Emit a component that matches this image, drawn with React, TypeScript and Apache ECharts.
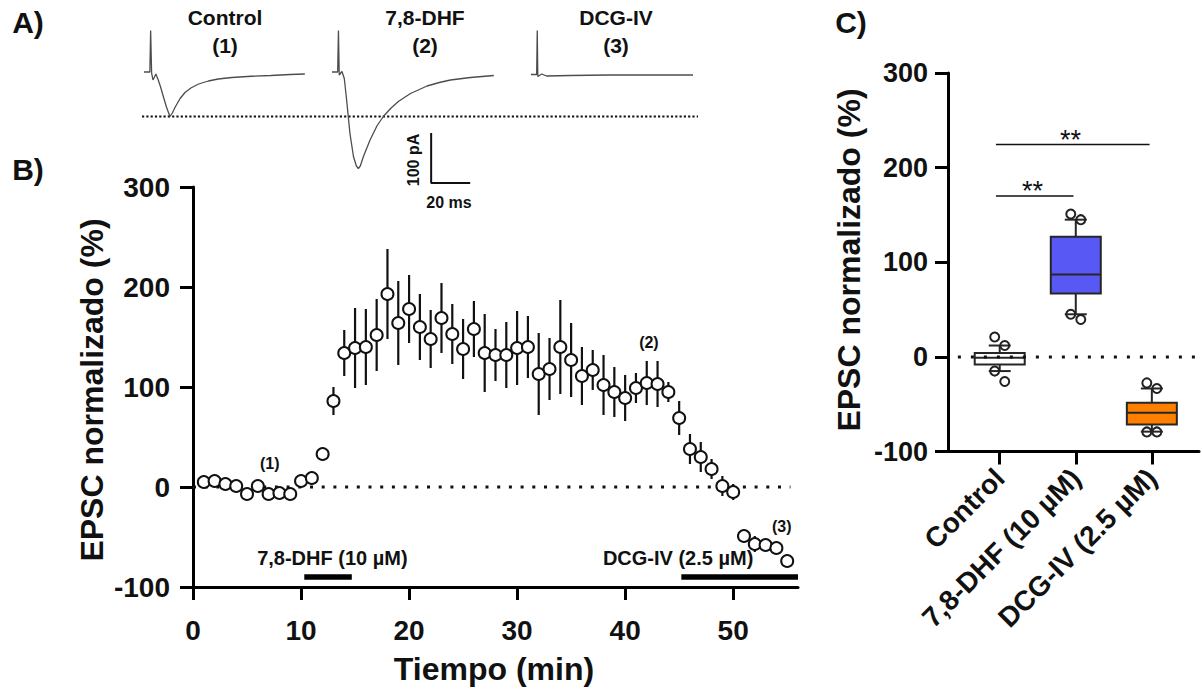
import React, { useEffect, useRef } from "react";
import * as echarts from "echarts";

const FONT = '"Liberation Sans", Arial, Helvetica, sans-serif';
const INK = "#111111";

// ---------- Panel A: representative EPSC traces [time (ms), current (pA)] ----------
const traceControl = [
  [0, 0], [3.0, 0], [3.4, 83], [3.9, -2], [4.6, -16], [6.1, -4], [7.3, -16], [8.5, -30],
  [9.9, -49], [11.5, -70], [13.3, -89], [14.5, -82], [16, -70], [18.5, -53], [21, -41],
  [24, -32], [28, -24], [33, -18], [38, -14], [45, -11], [55, -8.5], [65, -7], [75, -5], [82.4, -4],
];
const traceDHF = [
  [0, 0], [2.9, 0], [3.3, 83], [3.7, -6], [5.1, 1], [6.3, -13], [7.5, -56], [9.2, -123],
  [11, -169], [12.5, -188], [13.5, -193], [14.5, -188], [16.1, -169], [19.5, -136], [23, -108],
  [26.3, -89], [30, -73], [34, -59], [40.2, -43], [48.7, -28], [55, -21], [60.7, -16],
  [70.9, -11], [82.9, -7],
];
const traceDCG = [
  [0, -5], [2.9, -5], [3.2, 83], [3.5, -9], [5.5, -4], [8, -8], [20, -7], [40, -6], [60, -6], [83, -6],
];
const traceTitles = ["Control", "7,8-DHF", "DCG-IV"];
const traceTags = ["(1)", "(2)", "(3)"];
const controlPeak = -89; // pA, dotted reference level
const scaleBarPA = 100;
const scaleBarMS = 20;

// ---------- Panel B: time course ----------
const minutes = [
  1, 2, 3, 4, 5, 6, 7, 8, 9, 10, 11, 12, 13, 14, 15, 16, 17, 18, 19, 20, 21, 22, 23, 24, 25, 26, 27, 28,
  29, 30, 31, 32, 33, 34, 35, 36, 37, 38, 39, 40, 41, 42, 43, 44, 45, 46, 47, 48, 49, 50, 51, 52, 53, 54, 55,
];
const epscMean = [
  5, 6, 3, 1, -7, 1, -7, -6, -7, 6, 9, 33, 86, 134, 139, 140, 152, 193, 164, 178, 160, 148, 169, 153,
  138, 158, 134, 132, 132, 139, 140, 113, 118, 140, 127, 111, 117, 102, 95, 89, 99, 104, 103, 95, 69,
  38, 30, 18, 1, -5, -49, -57, -58, -61, -74,
];
const epscSem = [
  4, 4, 4, 4, 4, 5, 4, 4, 6, 4, 6, 4, 14, 23, 40, 38, 36, 45, 42, 34, 33, 29, 35, 30, 30, 28, 39, 26,
  33, 37, 31, 41, 31, 47, 37, 29, 20, 30, 25, 23, 15, 22, 23, 10, 17, 15, 15, 10, 10, 8, 6, 8, 5, 5, 4,
];
const timeTicks = [0, 10, 20, 30, 40, 50];
const drugNames = ["7,8-DHF (10 µM)", "DCG-IV (2.5 µM)"];
const drugStart = [10.3, 45.2];
const drugEnd = [14.7, 56];
const drugLabelTime = [12.9, 44.9];
const sampleTags = ["(1)", "(2)", "(3)"];
const sampleTagTime = [7.1, 42.2, 54.5];
const sampleTagLevel = [24, 145, -39];

// ---------- Panel C: summary box plots ----------
const groups = ["Control", "7,8-DHF (10 µM)", "DCG-IV (2.5 µM)"];
const boxMin = [-15, 45, -79];
const boxQ1 = [-8, 67, -71.5];
const boxMedian = [-1, 87, -59];
const boxQ3 = [4, 127, -48.5];
const boxMax = [12, 145, -33.4];
const boxColors = ["#ffffff", "#5858f5", "#ff8000"];
const groupPoints = [
  [21, 12, -15, -26],
  [151, 145, 45, 39.5],
  [-27.5, -33.4, -79.3, -79.3],
];
const sigFrom = [1, 1];
const sigTo = [2, 3];
const sigLevel = [170, 224.5];
const sigLabel = ["**", "**"];

const boldText = (size: number) => ({
  fontFamily: FONT,
  fontWeight: "bold" as const,
  fontSize: size,
  color: INK,
});

function gText(text: string, x: number, y: number, size: number, rotation = 0, weight = "bold") {
  return {
    type: "text",
    x,
    y,
    rotation,
    silent: true,
    style: {
      text,
      fill: INK,
      fontFamily: FONT,
      fontWeight: weight,
      fontSize: size,
      align: "center",
      verticalAlign: "middle",
    },
  };
}

export default function App() {
  const ref = useRef<HTMLDivElement>(null);

  useEffect(() => {
    document.body.style.margin = "0";
    if (!ref.current) return;
    const chart = echarts.init(ref.current, undefined, { renderer: "svg" });

    const traceLefts = [144, 332, 531];
    const traces = [traceControl, traceDHF, traceDCG];

    // grids 0-2: traces, 3: time course, 4: box plots, 5: dotted reference across traces
    const grids: any[] = traceLefts.map((left) => ({
      left,
      top: 27,
      width: 162,
      height: 160,
      outerBoundsMode: "none",
    }));
    grids.push({ left: 193, top: 187, width: 605, height: 400, outerBoundsMode: "none" });
    grids.push({ left: 948, top: 73, width: 251, height: 378.5, outerBoundsMode: "none" });
    grids.push({ left: 142, top: 27, width: 556, height: 160, outerBoundsMode: "none" });

    const xAxes: any[] = traceLefts.map((_, i) => ({
      gridIndex: i, type: "value", min: 0, max: 83, show: false,
    }));
    const yAxes: any[] = traceLefts.map((_, i) => ({
      gridIndex: i, type: "value", min: -230, max: 90, show: false,
    }));

    const axisLine = { show: true, onZero: false, lineStyle: { color: "#000", width: 3 } };
    const axisTick = { show: true, length: 13, lineStyle: { color: "#000", width: 3 } };

    xAxes.push({
      gridIndex: 3,
      type: "value",
      min: 0,
      max: 56,
      axisLine,
      axisTick: { ...axisTick, customValues: timeTicks },
      axisLabel: { ...boldText(28), margin: 29, customValues: timeTicks },
      splitLine: { show: false },
    });
    yAxes.push({
      gridIndex: 3,
      type: "value",
      min: -100,
      max: 300,
      interval: 100,
      axisLine,
      axisTick,
      axisLabel: { ...boldText(28), margin: 23 },
      splitLine: { show: false },
    });
    xAxes.push({
      gridIndex: 4,
      type: "value",
      min: 0.32,
      max: 3.62,
      axisLine,
      axisTick: { ...axisTick, customValues: [1, 2, 3] },
      axisLabel: {
        ...boldText(28),
        margin: 22,
        rotate: 45,
        customValues: [1, 2, 3],
        formatter: (v: number) => groups[Math.round(v) - 1] ?? "",
      },
      splitLine: { show: false },
    });
    yAxes.push({
      gridIndex: 4,
      type: "value",
      min: -100,
      max: 300,
      interval: 100,
      axisLine,
      axisTick,
      axisLabel: { ...boldText(27), margin: 20 },
      splitLine: { show: false },
    });
    xAxes.push({ gridIndex: 5, type: "value", min: 0, max: 1, show: false });
    yAxes.push({ gridIndex: 5, type: "value", min: -230, max: 90, show: false });

    const series: any[] = [];

    // Panel A traces
    traces.forEach((t, i) => {
      series.push({
        type: "line",
        xAxisIndex: i,
        yAxisIndex: i,
        data: t,
        showSymbol: false,
        symbol: "none",
        lineStyle: { color: "#4d4d4d", width: 1.3 },
        z: 3,
      });
    });
    // Dotted line at the control peak, spanning all three traces
    series.push({
      type: "line",
      xAxisIndex: 5,
      yAxisIndex: 5,
      data: [[0, controlPeak], [1, controlPeak]],
      symbol: "none",
      lineStyle: { color: INK, width: 2.2, type: [2.2, 2.1] },
      z: 2,
    });
    // Scale bar (100 pA, 20 ms)
    const sbX = 50.8;
    const sbY = -222;
    series.push({
      type: "line",
      xAxisIndex: 1,
      yAxisIndex: 1,
      clip: false,
      data: [[sbX, sbY + scaleBarPA], [sbX, sbY], [sbX + scaleBarMS, sbY]],
      symbol: "none",
      lineStyle: { color: INK, width: 2 },
    });

    // Panel B: zero reference
    series.push({
      type: "line",
      xAxisIndex: 3,
      yAxisIndex: 3,
      data: [[0, 0], [55.3, 0]],
      symbol: "none",
      lineStyle: { color: INK, width: 3, type: [3, 8.7] },
      z: 1,
    });
    // Drug application bars
    drugNames.forEach((_, i) => {
      series.push({
        type: "line",
        xAxisIndex: 3,
        yAxisIndex: 3,
        data: [[drugStart[i], -90], [drugEnd[i], -90]],
        symbol: "none",
        lineStyle: { color: "#000", width: 5.5 },
        z: 2,
      });
    });
    // Error bars (SEM)
    series.push({
      type: "custom",
      xAxisIndex: 3,
      yAxisIndex: 3,
      data: minutes.map((m, i) => [m, epscMean[i], epscSem[i]]),
      encode: { x: 0, y: 1 },
      renderItem: (_p: any, api: any) => {
        const x = api.value(0);
        const m = api.value(1);
        const e = api.value(2);
        const a = api.coord([x, m + e]);
        const b = api.coord([x, m - e]);
        return {
          type: "line",
          shape: { x1: a[0], y1: a[1], x2: b[0], y2: b[1] },
          style: { stroke: INK, lineWidth: 2.2 },
        };
      },
      z: 3,
    });
    // Means
    series.push({
      type: "scatter",
      xAxisIndex: 3,
      yAxisIndex: 3,
      data: minutes.map((m, i) => [m, epscMean[i]]),
      symbol: "circle",
      symbolSize: 12,
      itemStyle: { color: "#ffffff", borderColor: INK, borderWidth: 2, opacity: 1 },
      z: 4,
    });
    // Text annotations in panel B
    series.push({
      type: "scatter",
      xAxisIndex: 3,
      yAxisIndex: 3,
      symbolSize: 0,
      silent: true,
      itemStyle: { opacity: 1 },
      data: [
        ...sampleTags.map((t, i) => ({
          name: t,
          value: [sampleTagTime[i], sampleTagLevel[i]],
          label: { fontSize: 16 },
        })),
        ...drugNames.map((t, i) => ({
          name: t,
          value: [drugLabelTime[i], -71],
          label: { fontSize: 20 },
        })),
      ],
      label: {
        show: true,
        position: "inside",
        formatter: "{b}",
        ...boldText(16),
        opacity: 1,
      },
      z: 5,
    });

    // Panel C: boxes
    series.push({
      type: "custom",
      xAxisIndex: 4,
      yAxisIndex: 4,
      data: groups.map((_, i) => [i + 1, boxMin[i], boxQ1[i], boxMedian[i], boxQ3[i], boxMax[i]]),
      encode: { x: 0, y: [1, 2, 3, 4, 5] },
      renderItem: (params: any, api: any) => {
        const x = api.value(0);
        const lo = api.coord([x, api.value(1)]);
        const q1 = api.coord([x, api.value(2)]);
        const md = api.coord([x, api.value(3)]);
        const q3 = api.coord([x, api.value(4)]);
        const hi = api.coord([x, api.value(5)]);
        const cx = md[0];
        const hw = 25;
        const cw = 11;
        const st = { stroke: "#262626", lineWidth: 2 };
        return {
          type: "group",
          children: [
            { type: "line", shape: { x1: cx, y1: q3[1], x2: cx, y2: hi[1] }, style: st },
            { type: "line", shape: { x1: cx - cw, y1: hi[1], x2: cx + cw, y2: hi[1] }, style: st },
            { type: "line", shape: { x1: cx, y1: q1[1], x2: cx, y2: lo[1] }, style: st },
            { type: "line", shape: { x1: cx - cw, y1: lo[1], x2: cx + cw, y2: lo[1] }, style: st },
            {
              type: "rect",
              shape: { x: cx - hw, y: q3[1], width: 2 * hw, height: q1[1] - q3[1] },
              style: { fill: boxColors[params.dataIndex], stroke: "#262626", lineWidth: 2 },
            },
            { type: "line", shape: { x1: cx - hw, y1: md[1], x2: cx + hw, y2: md[1] }, style: st },
          ],
        };
      },
      z: 2,
    });
    // Zero reference in panel C
    series.push({
      type: "line",
      xAxisIndex: 4,
      yAxisIndex: 4,
      data: [[0.45, 0], [3.62, 0]],
      symbol: "none",
      lineStyle: { color: INK, width: 3, type: [3, 10] },
      z: 3,
    });
    // Individual experiments
    const jitter = [-0.066, 0.066];
    series.push({
      type: "scatter",
      xAxisIndex: 4,
      yAxisIndex: 4,
      data: groupPoints.flatMap((pts, g) => pts.map((v, k) => [g + 1 + jitter[k % 2], v])),
      symbol: "circle",
      symbolSize: 9,
      itemStyle: { color: "rgba(255,255,255,0)", borderColor: "#222", borderWidth: 2, opacity: 1 },
      z: 4,
    });
    // Significance brackets
    sigFrom.forEach((f, i) => {
      series.push({
        type: "line",
        xAxisIndex: 4,
        yAxisIndex: 4,
        data: [[f - 0.05, sigLevel[i]], [sigTo[i] - 0.03, sigLevel[i]]],
        symbol: "none",
        lineStyle: { color: INK, width: 1.6 },
      });
    });
    series.push({
      type: "scatter",
      xAxisIndex: 4,
      yAxisIndex: 4,
      symbolSize: 0,
      silent: true,
      itemStyle: { opacity: 1 },
      data: sigFrom.map((f, i) => ({
        name: sigLabel[i],
        value: [(f + sigTo[i]) / 2 - 0.07, sigLevel[i] + 5],
      })),
      label: {
        show: true,
        position: "inside",
        formatter: "{b}",
        fontFamily: FONT,
        fontSize: 27,
        color: INK,
        opacity: 1,
      },
    });

    const graphic: any[] = [
      gText("A)", 28, 22, 30),
      gText("B)", 28, 169, 30),
      gText("C)", 851, 22, 30),
      gText("EPSC normalizado (%)", 92, 390, 32, Math.PI / 2),
      gText("Tiempo (min)", 494, 669, 32),
      gText("EPSC normalizado (%)", 849, 260, 32, Math.PI / 2),
      gText("100 pA", 413, 160, 16, Math.PI / 2),
      gText("20 ms", 449, 202, 16),
    ];
    const titleX = [225, 425, 616];
    traceTitles.forEach((t, i) => {
      graphic.push(gText(t, titleX[i], 17, 21));
      graphic.push(gText(traceTags[i], titleX[i], 45, 21));
    });

    chart.setOption({
      animation: false,
      backgroundColor: "#ffffff",
      grid: grids,
      xAxis: xAxes,
      yAxis: yAxes,
      series,
      graphic,
    });

    return () => {
      chart.dispose();
    };
  }, []);

  return <div ref={ref} style={{ width: 1202, height: 694 }} />;
}
